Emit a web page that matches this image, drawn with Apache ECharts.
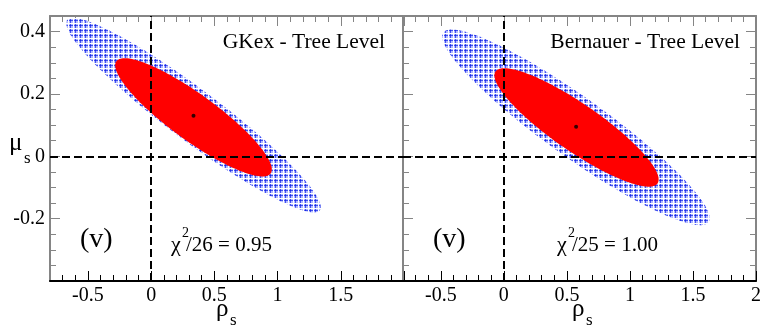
<!DOCTYPE html>
<html>
<head>
<meta charset="utf-8">
<script src="https://cdn.jsdelivr.net/npm/echarts@6/dist/echarts.min.js"></script>
<style>
  html, body { margin: 0; padding: 0; background: #fff; }
  #chart { width: 773px; height: 332px; }
</style>
</head>
<body>
<div id="chart"></div>
<script>
// each contour: the two ends of its long axis, and the top of its edge straight above the centre
const gkexBlueEnds = [[-0.665, 0.437], [1.334, -0.173]]
const gkexBlueEdge = [0.335, 0.234]
const gkexRedEnds = [[-0.275, 0.305], [0.945, -0.055]]
const gkexRedEdge = [0.335, 0.215]
const gkexBest = [0.335, 0.13]

const bernBlueEnds = [[-0.48, 0.397], [1.623, -0.211]]
const bernBlueEdge = [0.571, 0.21]
const bernRedEnds = [[-0.066, 0.272], [1.219, -0.087]]
const bernRedEdge = [0.577, 0.183]
const bernBest = [0.573, 0.095]

const xMajor = [-0.5, 0, 0.5, 1, 1.5, 2]
const xMajorLeft = [-0.5, 0, 0.5, 1, 1.5]
const xMinor = [-0.7, -0.6, -0.4, -0.3, -0.2, -0.1, 0.1, 0.2, 0.3, 0.4, 0.6, 0.7, 0.8, 0.9,
  1.1, 1.2, 1.3, 1.4, 1.6, 1.7, 1.8, 1.9]
const yMajor = [-0.2, 0, 0.2, 0.4]
const yMinor = [-0.35, -0.3, -0.25, -0.15, -0.1, -0.05, 0.05, 0.1, 0.15, 0.25, 0.3, 0.35]

const FONT = "'Liberation Serif', 'Times New Roman', serif"
const GRAY = '#858585'

// blue plaid hatch
function hatch() {
  const c = document.createElement('canvas')
  c.width = 5; c.height = 5
  const g = c.getContext('2d')
  g.fillStyle = '#b3baff'; g.fillRect(0, 0, 5, 5)
  g.fillStyle = '#4252f0'; g.fillRect(0, 0, 5, 1); g.fillRect(0, 0, 1, 5)
  g.fillStyle = '#ffffff'; g.fillRect(0, 3, 5, 1); g.fillRect(3, 0, 1, 5)
  g.fillStyle = '#1c2ae2'; g.fillRect(0, 0, 1, 1)
  return c
}
const blueFill = { image: hatch(), repeat: 'repeat' }

function ellipse(fill) {
  return function (params, api) {
    const a = api.coord([api.value(0), api.value(1)])
    const b = api.coord([api.value(2), api.value(3)])
    const e = api.coord([api.value(4), api.value(5)])
    const cx = (a[0] + b[0]) / 2, cy = (a[1] + b[1]) / 2
    const ra = Math.hypot(b[0] - cx, b[1] - cy)
    const ux = (b[0] - cx) / ra, uy = (b[1] - cy) / ra
    const p = (e[0] - cx) * ux + (e[1] - cy) * uy
    const q = -(e[0] - cx) * uy + (e[1] - cy) * ux
    const rb = Math.abs(q) / Math.sqrt(1 - (p * p) / (ra * ra))
    const pts = []
    for (let i = 0; i < 160; i++) {
      const t = i / 160 * Math.PI * 2
      const c = Math.cos(t) * ra, s = Math.sin(t) * rb
      pts.push([cx + c * ux - s * uy, cy + c * uy + s * ux])
    }
    return { type: 'polygon', shape: { points: pts }, style: { fill: fill } }
  }
}

function xAx(grid, pos, ticks, len, color, line, labels) {
  return {
    type: 'value', gridIndex: grid, position: pos, min: -0.8, max: 2,
    splitLine: { show: false },
    axisLine: { show: line, onZero: false, lineStyle: { color: color, width: 2 } },
    axisTick: { inside: true, length: len, customValues: ticks, lineStyle: { color: color, width: 1 } },
    axisLabel: labels ? { customValues: labels, margin: 5, color: '#000', fontFamily: FONT, fontSize: 20 } : { show: false }
  }
}
function yAx(grid, pos, ticks, len, line, labels) {
  return {
    type: 'value', gridIndex: grid, position: pos, min: -0.4, max: 0.45,
    splitLine: { show: false },
    axisLine: { show: line, onZero: false, lineStyle: { color: GRAY, width: 2 } },
    axisTick: { inside: true, length: len, customValues: ticks, lineStyle: { color: GRAY, width: 1 } },
    axisLabel: labels ? { customValues: labels, margin: 5, color: '#000', fontFamily: FONT, fontSize: 20 } : { show: false }
  }
}

function panel(xi, yi, blueEnds, blueEdge, redEnds, redEdge, best) {
  return [
    { type: 'custom', xAxisIndex: xi, yAxisIndex: yi, renderItem: ellipse(blueFill), silent: true, z: 1,
      data: [[...blueEnds[0], ...blueEnds[1], ...blueEdge]] },
    { type: 'custom', xAxisIndex: xi, yAxisIndex: yi, renderItem: ellipse('#ff0000'), silent: true, z: 2,
      data: [[...redEnds[0], ...redEnds[1], ...redEdge]] },
    { type: 'scatter', xAxisIndex: xi, yAxisIndex: yi, symbolSize: 4, z: 4, silent: true,
      itemStyle: { color: '#000' }, data: [best],
      markLine: {
        silent: true, symbol: ['none', 'none'], label: { show: false }, animation: false,
        lineStyle: { color: '#000', type: [8, 4], width: 2 },
        data: [{ xAxis: 0 }, { yAxis: 0 }]
      } }
  ]
}

function txt(x, y, text, size, align) {
  return { type: 'text', x: x, y: y, z: 10,
    style: { text: text, fill: '#000', fontSize: size, fontFamily: FONT,
      textAlign: align || 'left', align: align || 'left', textVerticalAlign: 'middle', verticalAlign: 'middle' } }
}

const chart = echarts.init(document.getElementById('chart'))
chart.setOption({
  animation: false,
  grid: [
    { left: 50, top: 16, width: 354, height: 265 },
    { left: 403, top: 16, width: 353, height: 265 }
  ],
  xAxis: [
    xAx(0, 'bottom', xMajor, 10, '#000', true, xMajorLeft),
    xAx(0, 'bottom', xMinor, 6, '#000', false),
    xAx(0, 'top', xMajor, 10, GRAY, true),
    xAx(0, 'top', xMinor, 6, GRAY, false),
    xAx(1, 'bottom', xMajor, 10, '#000', true, xMajor),
    xAx(1, 'bottom', xMinor, 6, '#000', false),
    xAx(1, 'top', xMajor, 10, GRAY, true),
    xAx(1, 'top', xMinor, 6, GRAY, false)
  ],
  yAxis: [
    yAx(0, 'left', yMajor, 10, true, yMajor),
    yAx(0, 'left', yMinor, 6, false),
    yAx(1, 'left', yMajor, 10, true),
    yAx(1, 'left', yMinor, 6, false),
    yAx(1, 'right', yMajor, 10, true),
    yAx(1, 'right', yMinor, 6, false)
  ],
  series: [
    ...panel(0, 0, gkexBlueEnds, gkexBlueEdge, gkexRedEnds, gkexRedEdge, gkexBest),
    ...panel(4, 2, bernBlueEnds, bernBlueEdge, bernRedEnds, bernRedEdge, bernBest)
  ],
  graphic: [
    txt(9, 143, 'μ', 25), txt(24, 159, 's', 17),
    txt(216, 309, 'ρ', 25), txt(230, 321, 's', 17),
    txt(572, 309, 'ρ', 25), txt(586, 321, 's', 17),
    txt(385, 42, 'GKex - Tree Level', 21.5, 'right'),
    txt(740, 42, 'Bernauer - Tree Level', 21.5, 'right'),
    txt(80, 240, '(v)', 28), txt(433, 240, '(v)', 28),
    txt(171, 245, 'χ', 22), txt(182, 233, '2', 14), txt(186, 245, '/26 = 0.95', 21),
    txt(557, 245, 'χ', 22), txt(568, 233, '2', 14), txt(572, 245, '/25 = 1.00', 21)
  ]
})
</script>
</body>
</html>
